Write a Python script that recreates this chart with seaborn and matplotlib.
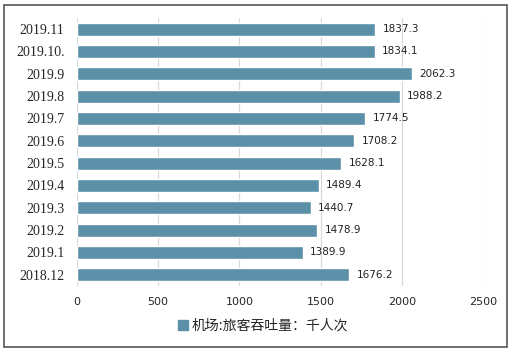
import matplotlib
matplotlib.use('Agg')
import matplotlib.pyplot as plt
import matplotlib.patches as mpatches
import pandas as pd
import seaborn as sns

sns.set_style('white')
plt.rcParams['font.family'] = ['Noto Sans CJK SC', 'DejaVu Sans']

# months from top to bottom, as in the chart
months = ['2019.11', '2019.10.', '2019.9', '2019.8', '2019.7', '2019.6',
          '2019.5', '2019.4', '2019.3', '2019.2', '2019.1', '2018.12']
passengers = [1837.3, 1834.1, 2062.3, 1988.2, 1774.5, 1708.2,
              1628.1, 1489.4, 1440.7, 1478.9, 1389.9, 1676.2]
xticks = [0, 500, 1000, 1500, 2000, 2500]
series_name = '机场:旅客吞吐量：千人次'

df = pd.DataFrame({'month': months, 'value': passengers})
bar_color = '#5b90a8'

fig = plt.figure(figsize=(5.11, 3.53), dpi=100)
ax = fig.add_axes([0.1507, 0.19, 0.7943, 0.759])

sns.barplot(data=df, x='value', y='month', order=months, orient='h',
            color=bar_color, saturation=1, width=0.58, ax=ax)

for i, v in enumerate(passengers):
    ax.text(v + 45, i, '%.1f' % v, va='center', ha='left', fontsize=7.5,
            family=['DejaVu Sans'], color='#222222')

ax.set_xlim(0, 2500)
ax.set_xticks(xticks)
ax.set_xticklabels([str(t) for t in xticks], fontsize=8, family=['DejaVu Sans'])
ax.set_yticks(range(len(months)))
ax.set_yticklabels(months, fontsize=10, family=['Liberation Serif'])
ax.set_xlabel('')
ax.set_ylabel('')
ax.grid(axis='x', color='#d9d9d9', linewidth=0.9)
ax.set_axisbelow(True)
for s in ax.spines.values():
    s.set_visible(False)
ax.tick_params(axis='both', length=0)
ax.tick_params(axis='x', pad=8)
ax.tick_params(axis='y', pad=9)

handle = mpatches.Patch(color=bar_color, label=series_name)
fig.legend(handles=[handle], loc='center', bbox_to_anchor=(0.515, 0.077),
           frameon=False, fontsize=10, handlelength=0.7, handleheight=0.7,
           handletextpad=0.3)

# outer border
fig.patches.append(mpatches.Rectangle((0.008, 0.017), 0.984, 0.97,
                                      transform=fig.transFigure, fill=False,
                                      edgecolor='#555555', linewidth=1.2))

fig.savefig('out.png', dpi=100)
